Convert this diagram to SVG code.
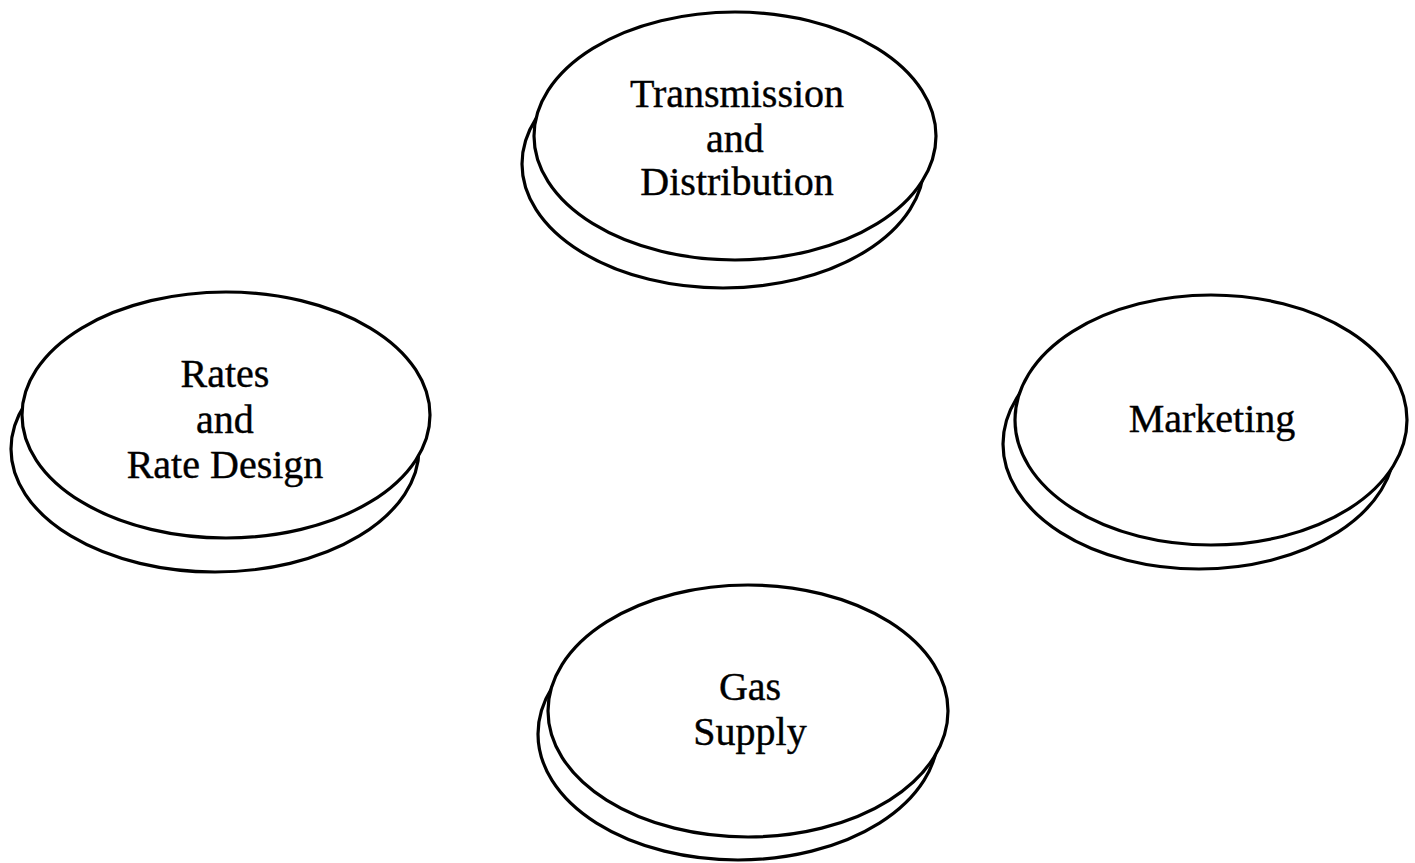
<svg xmlns="http://www.w3.org/2000/svg" width="1415" height="863" viewBox="0 0 1415 863">
<style>
.sh{fill:#fff;stroke:#000;stroke-width:3.2}
.fr{fill:#fff;stroke:#000;stroke-width:3.2}
.t{font-family:"Liberation Serif","Times New Roman",serif;font-size:40px;fill:#000;stroke:#000;stroke-width:0.4;text-anchor:middle}
</style>
<rect width="1415" height="863" fill="#fff"/>
<g id="connectors"></g>
<g id="transmission">
<ellipse class="sh" cx="723" cy="164" rx="201" ry="124"/>
<ellipse class="fr" cx="735" cy="136" rx="201" ry="124"/>
<text class="t" x="737" y="107">Transmission</text>
<text class="t" x="735" y="152">and</text>
<text class="t" x="737" y="195">Distribution</text>
</g>
<g id="rates">
<ellipse class="sh" cx="215" cy="449" rx="204" ry="123"/>
<ellipse class="fr" cx="226" cy="415" rx="204" ry="123"/>
<text class="t" x="225" y="387">Rates</text>
<text class="t" x="225" y="433">and</text>
<text class="t" x="225" y="478">Rate Design</text>
</g>
<g id="marketing">
<ellipse class="sh" cx="1199" cy="444" rx="196" ry="125"/>
<ellipse class="fr" cx="1211" cy="420" rx="196" ry="125"/>
<text class="t" x="1212" y="432">Marketing</text>
</g>
<g id="gas">
<ellipse class="sh" cx="738" cy="734" rx="200" ry="126"/>
<ellipse class="fr" cx="748" cy="711" rx="200" ry="126"/>
<text class="t" x="750" y="700">Gas</text>
<text class="t" x="750" y="745">Supply</text>
</g>
</svg>
